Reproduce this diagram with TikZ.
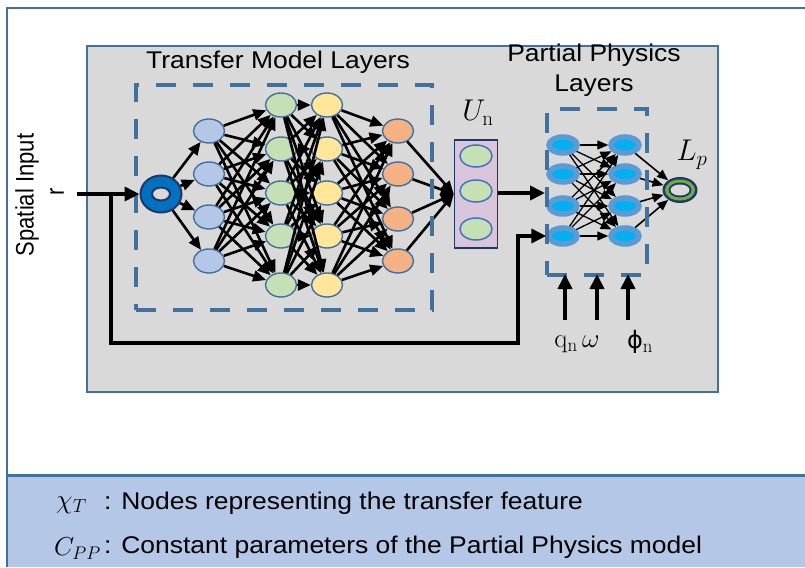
\RequirePackage{fix-cm}
\documentclass[tikz,border=0pt]{standalone}
\usepackage[no-math]{fontspec}
\setmainfont{Liberation Sans}
\newfontfamily\dejavu{DejaVu Sans}
\usetikzlibrary{shapes.geometric,arrows.meta}
\definecolor{frameblue}{HTML}{41719C}
\definecolor{bandblue}{HTML}{B4C7E7}
\definecolor{panelgray}{HTML}{D9D9D9}
\definecolor{nblue}{HTML}{B4C7E7}
\definecolor{ngreen}{HTML}{C5E0B4}
\definecolor{nyellow}{HTML}{FFE699}
\definecolor{norange}{HTML}{F4B183}
\definecolor{nborder}{HTML}{41719C}
\definecolor{navy}{HTML}{1F3864}
\definecolor{torusblue}{HTML}{0070C0}
\definecolor{unfill}{HTML}{D8C5DA}
\definecolor{unborder}{HTML}{4472C4}
\definecolor{ppring}{HTML}{5B9BD5}
\definecolor{ppcore}{HTML}{00B0F0}
\definecolor{lpgreen}{HTML}{70AD47}
\tikzset{
  layer/.style={ellipse, draw=nborder, line width=1.4pt, minimum width=31pt, minimum height=24pt, inner sep=0pt},
  conn/.style={line width=2.6pt, -{Triangle[length=13pt,width=11pt]}},
  ppconn/.style={line width=1.3pt, -{Triangle[length=11pt,width=9pt]}},
  bigarrow/.style={line width=4.2pt, -{Triangle[length=15pt,width=14pt]}},
  dbox/.style={rectangle, draw=frameblue, line width=4pt, dash pattern=on 20pt off 17pt, inner sep=0pt},
  ppn/.style={ellipse, draw=ppring, fill=ppcore, line width=5.5pt, minimum width=28pt, minimum height=16pt, inner sep=0pt},
  unc/.style={ellipse, draw=unborder, fill=ngreen, line width=1.5pt, minimum width=32pt, minimum height=22pt, inner sep=0pt},
  bigtxt/.style={font=\fontsize{23}{26}\selectfont, inner sep=0pt},
  midtxt/.style={font=\fontsize{22}{24}\selectfont, inner sep=0pt},
  mathtxt/.style={font=\fontsize{30}{30}\selectfont, inner sep=0pt},
}
\begin{document}
\begin{tikzpicture}[x=1pt,y=-1pt]
\useasboundingbox (0,0) rectangle (805,567);
% outer frame and legend band
\fill[white] (0,0) rectangle (805,567);
\fill[bandblue] (7,475) rectangle (805,567);
\draw[frameblue, line width=2pt] (7,567) -- (7,8) -- (806,8);
\draw[frameblue, line width=3pt] (7,475) -- (806,475);
% gray panel
\draw[frameblue, line width=2pt, fill=panelgray] (87,46) rectangle (718,392);

% titles
\node[bigtxt] (ttitle) at (278,62) {\scalebox{1.15}[1.05]{Transfer Model Layers}};
\node[bigtxt] (ptitle1) at (594,55) {\scalebox{1.15}[1.05]{Partial Physics}};
\node[bigtxt] (ptitle2) at (594,86) {\scalebox{1.15}[1.05]{Layers}};

% spatial input
\node[midtxt, rotate=90] (spin) at (27,195) {\scalebox{1}[1.15]{Spatial Input}};
\node[midtxt, rotate=90] (rin) at (57,192) {\scalebox{1}[1.15]{r}};

% input torus
\node[ellipse, draw=navy, fill=torusblue, line width=2pt, minimum width=41pt, minimum height=37pt, inner sep=0pt] (tin) at (161,194) {};
\draw[navy, line width=2pt, fill=panelgray] (tin.center) ellipse [x radius=9pt, y radius=6.5pt];

% layers
\foreach \i/\yy in {1/131,2/174,3/217,4/261} \node[layer, fill=nblue] (b\i) at (209,\yy) {};
\foreach \i/\yy in {1/105,2/149,3/193,4/236,5/285} \node[layer, fill=ngreen] (g\i) at (281,\yy) {};
\foreach \i/\yy in {1/105,2/149,3/193,4/236,5/285} \node[layer, fill=nyellow] (y\i) at (327,\yy) {};
\foreach \i/\yy in {1/131,2/174,3/219,4/261} \node[layer, fill=norange] (o\i) at (398,\yy) {};

% U_n box
\node[rectangle, draw=navy, fill=unfill, line width=1.5pt, minimum width=43pt, minimum height=108pt, inner sep=0pt] (un) at (476,194) {};
\node[unc] (u1) at (476,156) {};
\node[unc] (u2) at (476,191) {};
\node[unc] (u3) at (476,229) {};
\node[mathtxt] (unlab) at (478,113) {$U_{\mathrm{n}}$};

% connections transfer model
\foreach \i in {1,...,4} \draw[conn] (tin) -- (b\i);
\foreach \i in {1,...,4} \foreach \j in {1,...,5} \draw[conn] (b\i) -- (g\j);
\foreach \i in {1,...,5} \foreach \j in {1,...,5} \draw[conn] (g\i) -- (y\j);
\foreach \i in {1,...,5} \foreach \j in {1,...,4} \draw[conn] (y\i) -- (o\j);
\foreach \i in {1,...,4} \draw[conn] (o\i) -- (un.west);

% partial physics nodes
\foreach \i/\yy in {1/145,2/174,3/206,4/236} {
  \node[ppn] (pa\i) at (563,\yy) {};
  \node[ppn] (pb\i) at (625,\yy) {};
}
\foreach \i in {1,...,4} \foreach \j in {1,...,4} \draw[ppconn] (pa\i) -- (pb\j);

% L_p torus
\node[ellipse, fill=navy, minimum width=35pt, minimum height=26pt, inner sep=0pt] (lp) at (680,190) {};
\fill[lpgreen] (lp.center) ellipse [x radius=15pt, y radius=10.5pt];
\fill[navy] (lp.center) ellipse [x radius=11.5pt, y radius=7.5pt];
\fill[panelgray] (lp.center) ellipse [x radius=9.5pt, y radius=5.5pt];
\node[mathtxt] (lplab) at (692,155) {$L_p$};
\foreach \i in {1,...,4} \draw[ppconn, line width=1.6pt] (pb\i) -- (lp);

% dashed boxes
\node[dbox, minimum width=296pt, minimum height=225pt] (tbox) at (284,197.5) {};
\node[dbox, minimum width=100pt, minimum height=166pt] (ppbox) at (597,192) {};

% input and feedback
\coordinate (inl) at (77,194);
\coordinate (br) at (111,194);
\coordinate (fb) at (518,343);
\draw[bigarrow] (inl) -- (tin.west);
\draw[bigarrow] (br) |- (fb) |- (pa4.west);
\draw[bigarrow] (un.east |- 0,193) -- (ppbox.west |- 0,193);

% physics parameter inputs
\node[font=\fontsize{27}{27}\selectfont, inner sep=0pt] (qw) at (577,344) {$\mathrm{q}_{\mathrm{n}}\,\omega$};
\node[font=\fontsize{24}{24}\selectfont, inner sep=0pt] (phi) at (640,342) {{\dejavu ϕ}{\fontsize{27}{27}\selectfont$_{\mathrm{n}}$}};
\coordinate (a1) at (565,320);
\coordinate (a2) at (597,320);
\coordinate (a3) at (628,320);
\foreach \k in {1,2,3} \draw[bigarrow] (a\k) -- ([yshift=3pt]a\k |- ppbox.south);

% legend
\node[font=\fontsize{27}{27}\selectfont, anchor=west, inner sep=0pt] (l1s) at (56,505) {$\chi_T$};
\node[font=\fontsize{23}{26}\selectfont, anchor=west, inner sep=0pt] (l1t) at (104,503) {\scalebox{1.15}[1.05]{: Nodes representing the transfer feature}};
\node[font=\fontsize{26}{26}\selectfont, anchor=west, inner sep=0pt] (l2s) at (54,549) {$C_{PP}$};
\node[font=\fontsize{23}{26}\selectfont, anchor=west, inner sep=0pt] (l2t) at (104,547) {\scalebox{1.15}[1.05]{: Constant parameters of the Partial Physics model}};
\end{tikzpicture}
\end{document}
